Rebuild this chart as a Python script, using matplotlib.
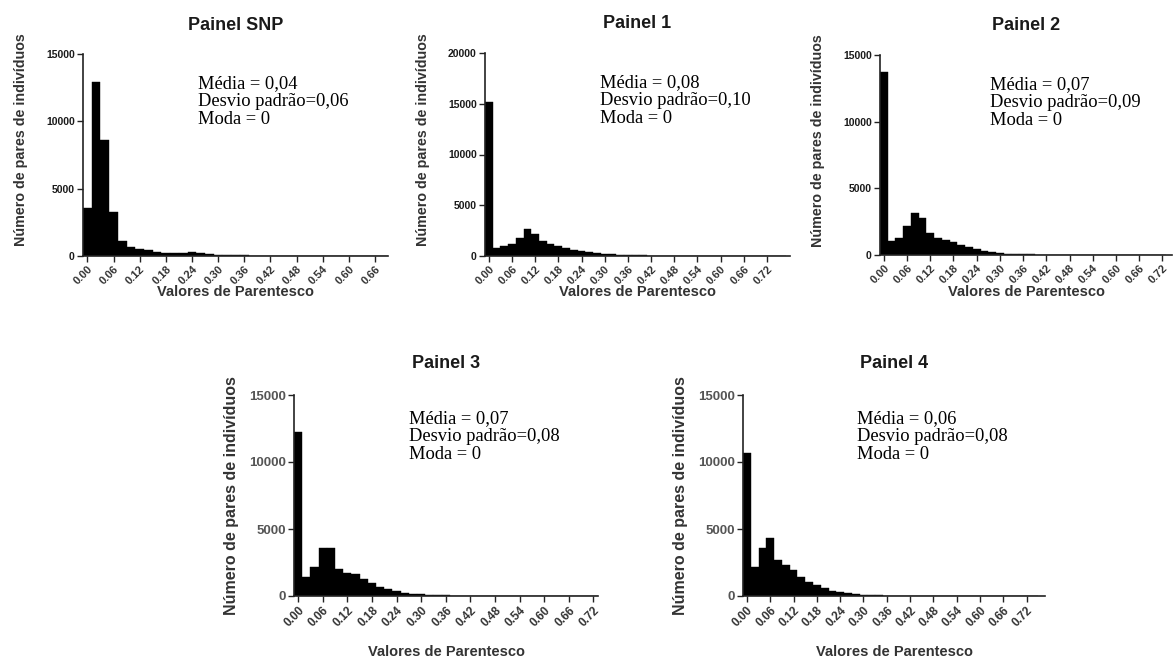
import numpy as np
import matplotlib
matplotlib.use('Agg')
import matplotlib.pyplot as plt

# bin centres every 0.02, counts
bin_w = 0.02
snp  = [3600, 12900, 8600, 3300, 1150, 650, 520, 420, 300, 220, 200, 230, 260, 250, 160,
        110, 80, 60, 45, 35, 28, 22, 18, 15, 12, 10, 8, 7, 6, 5, 4, 3, 3, 2, 2]
p1   = [15150, 830, 950, 1150, 1800, 2700, 2200, 1450, 1150, 950, 780, 620, 480, 380, 290,
        220, 170, 130, 100, 80, 60, 45, 35, 28, 22, 18, 14, 11, 9, 7, 6, 5, 4, 3, 3, 2, 2, 1, 1]
p2   = [13750, 1050, 1300, 2150, 3150, 2800, 1650, 1250, 1150, 950, 750, 580, 430, 320, 220,
        150, 100, 70, 50, 38, 28, 20, 15, 12, 10, 8, 6, 5, 4, 3, 3, 2, 2, 1, 1, 1, 1]
p3   = [12250, 1450, 2200, 3600, 3600, 2000, 1700, 1650, 1300, 950, 700, 500, 350, 250, 170,
        120, 80, 55, 40, 30, 22, 16, 12, 9, 7, 5, 4, 3, 3, 2, 2, 1, 1, 1, 1, 1, 1]
p4   = [10650, 2150, 3550, 4350, 2700, 2300, 1950, 1450, 1080, 820, 580, 400, 270, 190, 130,
        90, 60, 42, 30, 22, 16, 12, 9, 7, 5, 4, 3, 3, 2, 2, 1, 1, 1, 1, 1, 1, 1, 1]

titles = ['Painel SNP', 'Painel 1', 'Painel 2', 'Painel 3', 'Painel 4']
medias = ['0,04', '0,08', '0,07', '0,07', '0,06']
desvios = ['0,06', '0,10', '0,09', '0,08', '0,08']
ymax   = [15000, 20000, 15000, 15000, 15000]
xmax   = [0.69, 0.78, 0.745, 0.731, 0.767]
last_tick = [0.66, 0.72, 0.72, 0.72, 0.72]
counts = [snp, p1, p2, p3, p4]

W, H = 1174, 665
# axes boxes in pixels: left, right, top, bottom
boxes = [(83, 388, 54, 256), (485, 790, 53, 256), (880, 1172, 55, 255),
         (294, 598, 395, 596), (743, 1045, 395, 596)]

sans = 'Liberation Sans'
serif = 'Liberation Serif'
txtc = '#1a1a1a'

plt.close('all')
fig = plt.figure(figsize=(W/100, H/100), dpi=100)

for i in range(5):
    l, r, t, b = boxes[i]
    top_row = i < 3
    ax = fig.add_axes([l/W, (H-b)/H, (r-l)/W, (b-t)/H])
    c = np.array(counts[i])
    x = np.arange(len(c)) * bin_w
    ax.bar(x, c, width=bin_w, color='black', edgecolor='black', linewidth=0.3, align='center')

    ax.set_xlim(-0.01, xmax[i])
    ax.set_ylim(0, ymax[i])
    xt = np.round(np.arange(0, last_tick[i] + 0.001, 0.06), 2)
    ax.set_xticks(xt)
    ax.set_xticklabels(['%.2f' % v for v in xt], rotation=45, ha='right', va='top',
                       rotation_mode='anchor', fontsize=8 if top_row else 8.5,
                       fontweight='bold', family=sans, color='#333')
    yt = np.arange(0, ymax[i] + 1, 5000)
    ax.set_yticks(yt)
    if top_row:
        ax.set_yticklabels(['%d' % v for v in yt], fontsize=7.5, fontweight='bold',
                           family=sans, color=txtc)
    else:
        ax.set_yticklabels(['%d' % v for v in yt], fontsize=9.5, fontweight='bold',
                           family=sans, color='#555')
    ax.tick_params(direction='out', length=4, width=1, color='#222')
    ax.tick_params(axis='x', pad=2)
    ax.tick_params(axis='y', pad=2)
    for s in ['top', 'right']:
        ax.spines[s].set_visible(False)
    for s in ['left', 'bottom']:
        ax.spines[s].set_linewidth(1.2)
        ax.spines[s].set_color('#222')

    hh = b - t
    ax.text(0.5, 1 + (29 if top_row else 32)/hh, titles[i], transform=ax.transAxes,
            ha='center', va='center', fontsize=13, fontweight='bold', family=sans, color=txtc)
    ax.set_xlabel('Valores de Parentesco', fontsize=10.5, fontweight='bold',
                  family=sans, color='#333')
    ax.xaxis.set_label_coords(0.5, -(36.5 if top_row else 56)/hh, transform=ax.transAxes)
    ax.xaxis.label.set_va('center')
    ax.set_ylabel('Número de pares de indivíduos', fontsize=10.3 if top_row else 11.5,
                  fontweight='bold', family=sans, color='#333')
    ax.yaxis.set_label_coords(-62/(r-l), 0.574 if top_row else 0.5, transform=ax.transAxes)
    ax.yaxis.label.set_va('center')

    tx = 0.377 if i != 2 else 0.375
    ty = 0.895 if top_row else 0.925
    ax.text(tx, ty, 'Média = %s\nDesvio padrão=%s\nModa = 0' % (medias[i], desvios[i]),
            transform=ax.transAxes, ha='left', va='top', fontsize=13.3, family=serif,
            color='black', linespacing=1.08)

plt.savefig('out.png', dpi=100)
